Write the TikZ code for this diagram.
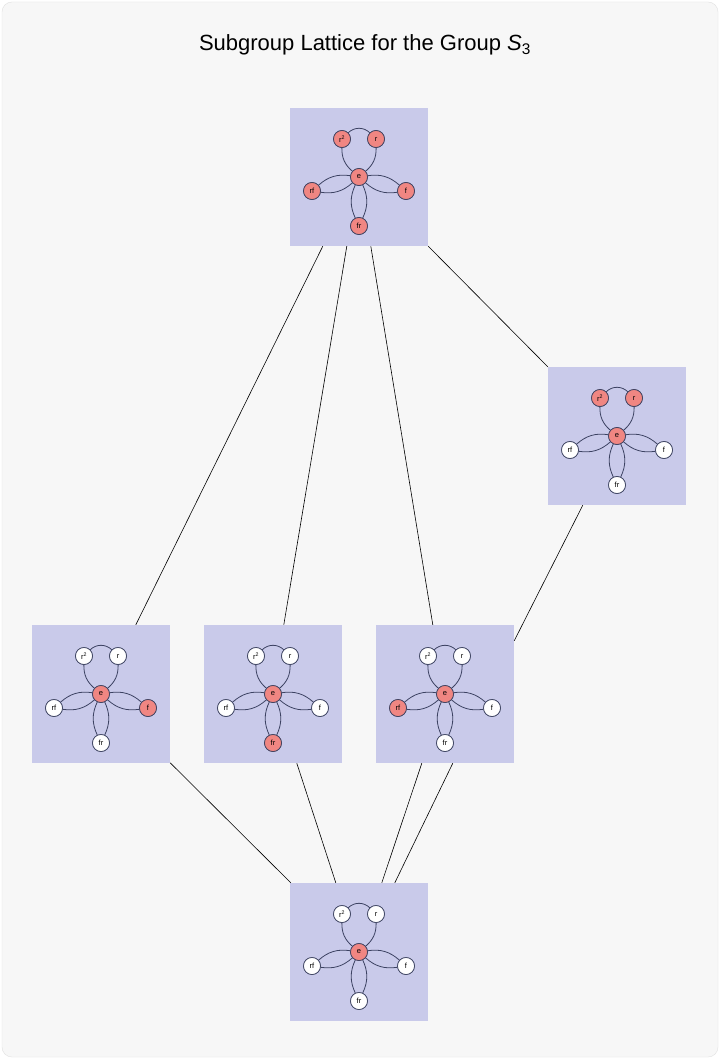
\documentclass[tikz,border=0pt]{standalone}
\usepackage{fontspec}
\setmainfont{Liberation Sans}
\usetikzlibrary{calc}

\definecolor{boxfill}{HTML}{C9CAEA}
\definecolor{hot}{HTML}{F08682}
\definecolor{edgecol}{HTML}{3C4262}

\tikzset{
  elem/.style={circle, draw=edgecol, line width=0.7pt, minimum size=17pt, inner sep=0pt, font=\fontsize{7.5}{7.5}\selectfont},
  grp/.style={draw=none, fill=boxfill, minimum width=138pt, minimum height=138pt, inner sep=0pt},
  cay/.style={edgecol, line width=0.8pt},
  link/.style={line width=0.6pt, black}
}

% #1 name, #2 centre, #3..#8 fills of e, r, r2, rf, f, fr
\newcommand{\cayley}[8]{
  \node[grp] (#1) at #2 {};
  \node[elem, fill=#3] (#1-e) at ($(#1)+(0,0)$) {e};
  \node[elem, fill=#4] (#1-r) at ($(#1)+(17,-38)$) {r};
  \node[elem, fill=#5] (#1-r2) at ($(#1)+(-17,-38)$) {r\textsuperscript{2}};
  \node[elem, fill=#6] (#1-rf) at ($(#1)+(-47,14)$) {rf};
  \node[elem, fill=#7] (#1-f) at ($(#1)+(47,14)$) {f};
  \node[elem, fill=#8] (#1-fr) at ($(#1)+(0,49)$) {fr};
  \draw[cay] (#1-e) to[bend left=25] (#1-r2);
  \draw[cay] (#1-r2) to[bend left=45] (#1-r);
  \draw[cay] (#1-r) to[bend left=25] (#1-e);
  \draw[cay] (#1-e) to[bend left=25] (#1-rf);
  \draw[cay] (#1-e) to[bend right=25] (#1-rf);
  \draw[cay] (#1-e) to[bend left=25] (#1-f);
  \draw[cay] (#1-e) to[bend right=25] (#1-f);
  \draw[cay] (#1-e) to[bend left=25] (#1-fr);
  \draw[cay] (#1-e) to[bend right=25] (#1-fr);
  % redraw nodes on top of the curves
  \node[elem, fill=#3] at (#1-e) {e};
  \node[elem, fill=#4] at (#1-r) {r};
  \node[elem, fill=#5] at (#1-r2) {r\textsuperscript{2}};
  \node[elem, fill=#6] at (#1-rf) {rf};
  \node[elem, fill=#7] at (#1-f) {f};
  \node[elem, fill=#8] at (#1-fr) {fr};
}

\begin{document}
\begin{tikzpicture}[x=1pt, y=-1pt]
  % page
  \fill[white] (0,0) rectangle (720,1059);
  \draw[rounded corners=10pt, fill={rgb,255:red,247;green,247;blue,247}, draw={rgb,255:red,225;green,225;blue,225}] (2,2) rectangle (718,1057);
  \useasboundingbox (0,0) rectangle (720,1059);

  % title
  \node[font=\fontsize{22}{22}\selectfont] (title) at (365,45) {Subgroup Lattice for the Group \textit{S}\textsubscript{3}};

  % subgroups
  \cayley{whole}{(359,177)}{hot}{hot}{hot}{hot}{hot}{hot}
  \cayley{rot}{(617,436)}{hot}{hot}{hot}{white}{white}{white}
  \cayley{fa}{(101,694)}{hot}{white}{white}{white}{hot}{white}
  \cayley{fb}{(273,694)}{hot}{white}{white}{white}{white}{hot}
  \cayley{fc}{(445,694)}{hot}{white}{white}{hot}{white}{white}
  \cayley{triv}{(359,952)}{hot}{white}{white}{white}{white}{white}

  % inclusions
  \draw[link] ([xshift=33pt]whole.south west) -- ([xshift=104pt]fa.north west);
  \draw[link] ([xshift=57pt]whole.south west) -- ([xshift=80pt]fb.north west);
  \draw[link] ([xshift=81pt]whole.south west) -- ([xshift=57pt]fc.north west);
  \draw[link] (whole.south east) -- (rot.north west);
  \draw[link] ([xshift=35pt]rot.south west) -- ([yshift=-16pt]fc.north east);
  \draw[link] ([yshift=-138pt]fa.north east) -- ([xshift=1pt]triv.north west);
  \draw[link] ([xshift=93pt]fb.south west) -- ([xshift=46pt]triv.north west);
  \draw[link] ([xshift=46pt]fc.south west) -- ([xshift=92pt]triv.north west);
  \draw[link] ([xshift=77pt]fc.south west) -- ([xshift=105pt]triv.north west);
\end{tikzpicture}
\end{document}
